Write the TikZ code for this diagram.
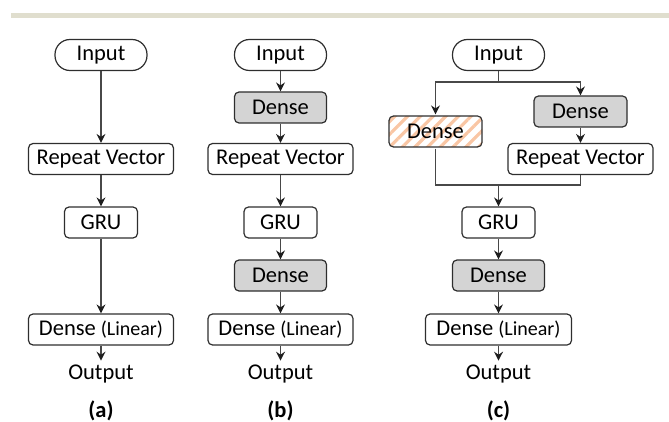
\documentclass[tikz,border=0pt]{standalone}
\usepackage{fontspec}
\setmainfont{Carlito}
\usepackage{tikz}
\usepackage{xcolor}
\usetikzlibrary{arrows.meta,patterns.meta}

\definecolor{topbar}{HTML}{E0DECE}
\definecolor{boxline}{HTML}{2E2E2E}
\definecolor{arrline}{HTML}{484848}
\definecolor{arrtip}{HTML}{1E1E1E}
\definecolor{densegray}{HTML}{D4D4D4}
\definecolor{hatch}{HTML}{F9C6A4}

\tikzset{
  layer/.style={draw=boxline,line width=1.2pt,rounded corners=4.5pt,minimum height=31pt,inner sep=0pt,font=\fontsize{22.5}{26}\selectfont},
  inbox/.style={layer,rounded corners=15pt,minimum width=92pt},
  graybox/.style={layer,fill=densegray,minimum width=92pt},
  hatchbox/.style={layer,pattern={Lines[angle=45,distance=9pt,line width=3.2pt]},pattern color=hatch,minimum width=93pt},
  plain/.style={inner sep=4pt,font=\fontsize{22.5}{26}\selectfont},
  sublabel/.style={inner sep=0pt,font=\fontsize{22.5}{26}\selectfont\bfseries},
  arr/.style={arrline,line width=1.3pt,-{Stealth[length=9pt,width=9pt,inset=3pt,color=arrtip]}},
  con/.style={arrline,line width=1.3pt}
}
\newcommand{\linear}{Dense {\fontsize{20}{24}\selectfont(Linear)}}

\begin{document}
\begin{tikzpicture}[x=1pt,y=-1pt]
\useasboundingbox (0,0) rectangle (669,422);
\fill[topbar] (11,13) rectangle (669,18.5);
% (a)
\node[inbox] (in_a) at (101,55) {Input};
\node[layer,minimum width=145pt] (rv_a) at (101,159) {Repeat Vector};
\node[layer,minimum width=73pt] (gru_a) at (101,222.5) {GRU};
\node[layer,minimum width=145pt] (lin_a) at (101,329.5) {\linear};
\node[plain] (out_a) at (101,374) {Output};
\node[sublabel] (lab_a) at (101,411) {(a)};
\draw[arr] (in_a) -- (rv_a);
\draw[arr] (rv_a) -- (gru_a);
\draw[arr] (gru_a) -- (lin_a);
\draw[arr] (lin_a) -- (out_a);
% (b)
\node[inbox] (in_b) at (280.5,55) {Input};
\node[graybox] (d1_b) at (280.5,107.5) {Dense};
\node[layer,minimum width=145pt] (rv_b) at (280.5,159) {Repeat Vector};
\node[layer,minimum width=73pt] (gru_b) at (280.5,222.5) {GRU};
\node[graybox] (d2_b) at (280.5,275.5) {Dense};
\node[layer,minimum width=145pt] (lin_b) at (280.5,329.5) {\linear};
\node[plain] (out_b) at (280.5,374) {Output};
\node[sublabel] (lab_b) at (280.5,411) {(b)};
\draw[arr] (in_b) -- (d1_b);
\draw[arr] (d1_b) -- (rv_b);
\draw[arr] (rv_b) -- (gru_b);
\draw[arr] (gru_b) -- (d2_b);
\draw[arr] (d2_b) -- (lin_b);
\draw[arr] (lin_b) -- (out_b);
% (c)
\node[inbox] (in_c) at (498.5,55) {Input};
\node[hatchbox] (dh_c) at (435.5,131.5) {Dense};
\node[graybox,minimum width=93pt] (dg_c) at (580.5,111.5) {Dense};
\node[layer,minimum width=145pt] (rv_c) at (580.5,159) {Repeat Vector};
\node[layer,minimum width=73pt] (gru_c) at (498.5,222.5) {GRU};
\node[graybox] (d_c) at (498.5,275.5) {Dense};
\node[layer,minimum width=146pt] (lin_c) at (498.5,329.5) {\linear};
\node[plain] (out_c) at (498.5,374) {Output};
\node[sublabel] (lab_c) at (498.5,411) {(c)};
\coordinate (split_c) at (498.5,82);
\coordinate (merge_c) at (498.5,185);
\draw[con] (in_c) -- (split_c);
\draw[arr] (split_c) -| (dh_c.north);
\draw[arr] (split_c) -| (dg_c.north);
\draw[arr] (dg_c) -- (rv_c);
\draw[con] (dh_c.south) |- (merge_c);
\draw[con] (rv_c.south) |- (merge_c);
\draw[arr] (merge_c) -- (gru_c);
\draw[arr] (gru_c) -- (d_c);
\draw[arr] (d_c) -- (lin_c);
\draw[arr] (lin_c) -- (out_c);
\end{tikzpicture}
\end{document}
